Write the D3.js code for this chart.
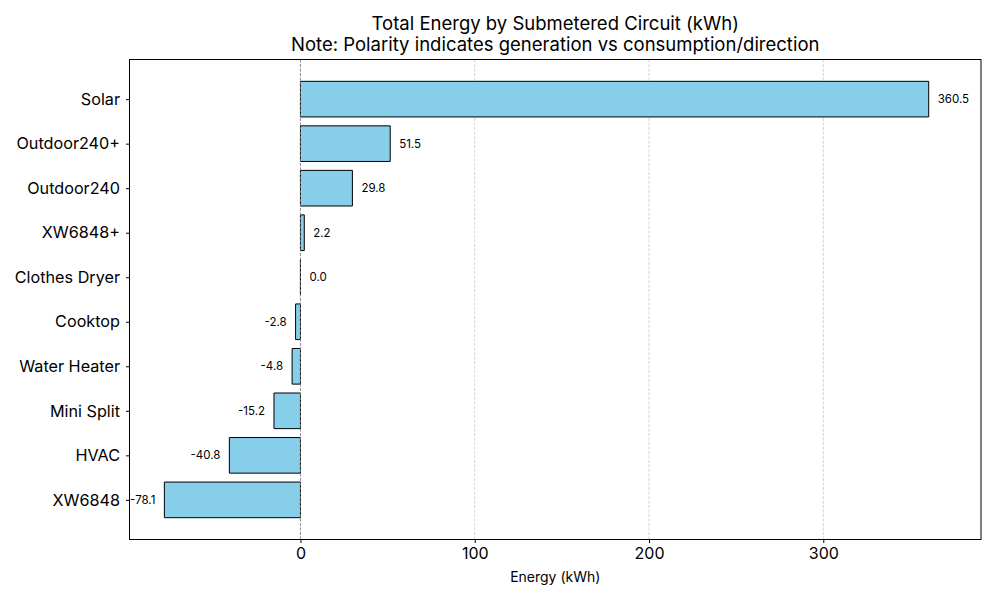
<!DOCTYPE html>
<html lang="en">
<head>
    <meta charset="UTF-8">
    <title>Total Energy by Submetered Circuit</title>
    <script src="https://d3js.org/d3.v7.min.js"></script>
    <style>
    body {
        margin: 0;
        background: #ffffff;
        font-family: 'Inter', 'DejaVu Sans', sans-serif;
    }
    #chart text {
        fill: #000;
    }
    </style>
</head>
<body>
    <svg id="chart" width="1000" height="600"></svg>

    <script>
        // Data, top row first
        const circuits = ["Solar", "Outdoor240+", "Outdoor240", "XW6848+", "Clothes Dryer",
                          "Cooktop", "Water Heater", "Mini Split", "HVAC", "XW6848"];
        const energy = [360.5, 51.5, 29.8, 2.2, 0.0, -2.8, -4.8, -15.2, -40.8, -78.1];
        const xTicks = [0, 100, 200, 300];
        const xLimits = [-98.1, 390.5];

        const margin = {top: 59.5, right: 19, bottom: 60.5, left: 129.5};
        const width = 1000 - margin.left - margin.right;
        const height = 600 - margin.top - margin.bottom;

        const svg = d3.select("#chart");
        const g = svg.append("g")
            .attr("transform", `translate(${margin.left},${margin.top})`);

        const x = d3.scaleLinear().domain(xLimits).range([0, width]);

        // matplotlib style: bar i centred on index, height 0.8, 5% margins
        const n = circuits.length;
        const y = d3.scaleLinear()
            .domain([-0.89, n - 1 + 0.89])
            .range([0, height]);
        const barH = y(0.8) - y(0);

        // grid
        g.selectAll(".grid")
            .data(xTicks)
            .enter().append("line")
            .attr("class", "grid")
            .attr("x1", d => x(d)).attr("x2", d => x(d))
            .attr("y1", 0).attr("y2", height)
            .attr("stroke", "#b0b0b0")
            .attr("stroke-opacity", 0.7)
            .attr("stroke-width", 0.8)
            .attr("stroke-dasharray", "3,1.5");

        // bars (drawn as paths so a zero-length bar still shows its edge)
        g.selectAll(".bar")
            .data(energy)
            .enter().append("path")
            .attr("class", "bar")
            .attr("d", (d, i) => {
                const x0 = x(Math.min(0, d)), x1 = x(Math.max(0, d));
                const y0 = y(i - 0.4), y1 = y0 + barH;
                return `M${x0},${y0}H${x1}V${y1}H${x0}Z`;
            })
            .attr("fill", "#87ceeb")
            .attr("stroke", "#000")
            .attr("stroke-width", 1);

        // zero line over bars
        g.append("line")
            .attr("x1", x(0)).attr("x2", x(0))
            .attr("y1", 0).attr("y2", height)
            .attr("stroke", "#808080")
            .attr("stroke-width", 0.8)
            .attr("stroke-dasharray", "3,1.5");

        // value labels
        g.selectAll(".val")
            .data(energy)
            .enter().append("text")
            .attr("class", "val")
            .attr("x", d => d >= 0 ? x(d) + 9 : x(d) - 9)
            .attr("y", (d, i) => y(i))
            .attr("dy", "0.35em")
            .attr("text-anchor", d => d >= 0 ? "start" : "end")
            .style("font-size", "11.5px")
            .text(d => d.toFixed(1));

        // axes
        const xAxis = g.append("g")
            .attr("transform", `translate(0,${height})`)
            .call(d3.axisBottom(x).tickValues(xTicks).tickSize(3.5).tickPadding(5));
        xAxis.select(".domain").remove();
        xAxis.selectAll("text").style("font-size", "16px").style("font-family", "Inter, sans-serif");

        const yAxis = g.append("g")
            .call(d3.axisLeft(y).tickValues(d3.range(n)).tickFormat(i => circuits[i])
                .tickSize(3.5).tickPadding(6));
        yAxis.select(".domain").remove();
        yAxis.selectAll("text").style("font-size", "16.2px").style("font-family", "Inter, sans-serif");

        // frame
        g.append("rect")
            .attr("width", width).attr("height", height)
            .attr("fill", "none")
            .attr("stroke", "#000")
            .attr("stroke-width", 1);

        // titles
        const title = svg.append("text")
            .attr("x", margin.left + width / 2)
            .attr("text-anchor", "middle")
            .style("font-size", "18.5px");
        title.append("tspan").attr("x", margin.left + width / 2).attr("y", 30)
            .text("Total Energy by Submetered Circuit (kWh)");
        title.append("tspan").attr("x", margin.left + width / 2).attr("y", 51)
            .text("Note: Polarity indicates generation vs consumption/direction");

        svg.append("text")
            .attr("x", margin.left + width / 2)
            .attr("y", 582)
            .attr("text-anchor", "middle")
            .style("font-size", "14px")
            .text("Energy (kWh)");
    </script>
</body>
</html>
